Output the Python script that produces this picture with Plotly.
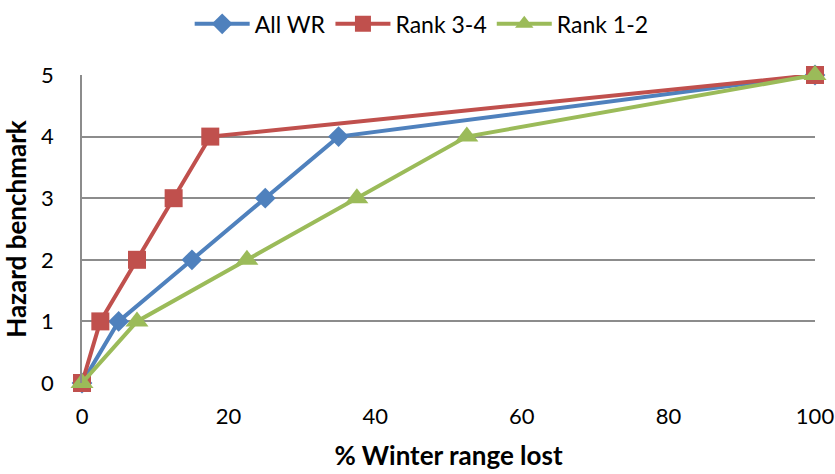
import plotly.graph_objects as go

# Hazard benchmark vs % of winter range lost
benchmark = [0, 1, 2, 3, 4, 5]
all_wr = [0, 5, 15, 25, 35, 100]
rank_34 = [0, 2.5, 7.5, 12.5, 17.5, 100]
rank_12 = [0, 7.5, 22.5, 37.5, 52.5, 100]

series = [
    ("All WR", all_wr, "#4F81BD", "diamond", 16),
    ("Rank 3-4", rank_34, "#C0504D", "square", 18),
    ("Rank 1-2", rank_12, "#9BBB59", "triangle-up", 20),
]

FONT = "Lato, Carlito, Calibri, sans-serif"

fig = go.Figure()
for name, xs, color, symbol, size in series:
    fig.add_trace(go.Scatter(
        x=xs, y=benchmark, name=name, mode="lines+markers",
        line=dict(color=color, width=4),
        marker=dict(symbol=symbol, size=size, color=color, line=dict(width=0)),
        cliponaxis=False,
    ))

fig.update_layout(
    width=835, height=474,
    margin=dict(l=82, r=20, t=75, b=91, autoexpand=False),
    paper_bgcolor="white", plot_bgcolor="white",
    font=dict(family=FONT, size=22, color="black"),
    showlegend=True,
    legend=dict(orientation="h", xref="container", x=0.505, xanchor="center",
                yref="container", y=0.995, yanchor="top",
                font=dict(size=23), itemwidth=55, traceorder="normal"),
    xaxis=dict(range=[0, 100], tickvals=[0, 20, 40, 60, 80, 100],
               showgrid=False, zeroline=False, showline=False, automargin=False,
               ticks="", ticklen=0, ticklabelstandoff=18,
               tickfont=dict(size=22),
               title=dict(text="<b>% Winter range lost</b>", font=dict(size=26), standoff=18)),
    yaxis=dict(range=[0, 5], tickvals=[0, 1, 2, 3, 4, 5],
               showgrid=True, gridcolor="#8c8c8c", gridwidth=1.5,
               zeroline=False, showline=True, linecolor="#8c8c8c", linewidth=1.5,
               automargin=False,
               ticks="", ticklabelstandoff=22,
               tickfont=dict(size=22),
               title=dict(text="<b>Hazard benchmark</b>", font=dict(size=26), standoff=8)),
)

fig.write_html("out.html")
